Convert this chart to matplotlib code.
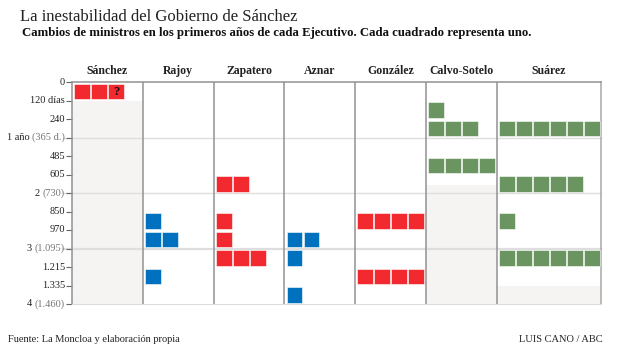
import matplotlib
matplotlib.use('Agg')
import matplotlib.pyplot as plt
from matplotlib.patches import Rectangle
import numpy as np

plt.rcParams['font.family'] = ['Liberation Serif', 'DejaVu Serif']

# datos
presidentes = ['Sánchez', 'Rajoy', 'Zapatero', 'Aznar', 'González', 'Calvo-Sotelo', 'Suárez']
partido_color = ['#f2292e', '#0071bf', '#f2292e', '#0071bf', '#f2292e', '#6a9460', '#6a9460']

# cambios de ministros: tramo (cada 120 días aprox.) -> número de cambios
tramo_sanchez = [0];            n_sanchez = [3]
tramo_rajoy = [7, 8, 10];       n_rajoy = [1, 2, 1]
tramo_zapatero = [5, 7, 8, 9];  n_zapatero = [2, 1, 1, 3]
tramo_aznar = [8, 9, 11];       n_aznar = [2, 1, 1]
tramo_gonzalez = [7, 10];       n_gonzalez = [4, 4]
tramo_calvo = [1, 2, 4];        n_calvo = [1, 3, 4]
tramo_suarez = [2, 5, 7, 9];    n_suarez = [6, 5, 1, 6]

# días en el Gobierno (fondo gris a partir de ahí); None = más de 4 años
dias_gobierno = [120, None, None, None, None, 678, 1338]

ticks_dias = [0, 120, 240, 365, 485, 605, 730, 850, 970, 1095, 1215, 1335, 1460]
ticks_txt = ['0', '120 días', '240', '1 año', '485', '605', '2', '850', '970', '3',
             '1.215', '1.335', '4']
ticks_paren = ['', '', '', '(365 d.)', '', '', '(730)', '', '', '(1.095)', '', '', '(1.460)']

tramos = [tramo_sanchez, tramo_rajoy, tramo_zapatero, tramo_aznar,
          tramo_gonzalez, tramo_calvo, tramo_suarez]
numeros = [n_sanchez, n_rajoy, n_zapatero, n_aznar, n_gonzalez, n_calvo, n_suarez]

# ancho de columnas en "cuadrados"
anchos = [4.165] * 6 + [6.12]
inicio = np.concatenate([[0], np.cumsum(anchos)[:-1]])
total = sum(anchos)
nfilas = len(ticks_dias) - 1

fig = plt.figure(figsize=(6.2, 3.49), dpi=100)
ax = fig.add_axes([72 / 620, 45 / 349, 529 / 620, 222 / 349])
ax.set_xlim(0, total)
ax.set_ylim(nfilas, 0)

# fondo gris tras el fin del Gobierno
for i, d in enumerate(dias_gobierno):
    if d is None:
        continue
    f = np.interp(d, ticks_dias, range(len(ticks_dias)))
    ax.add_patch(Rectangle((inicio[i], f), anchos[i], nfilas - f,
                           facecolor='#f5f4f2', edgecolor='none', zorder=0))

# lineas de años
for r, w in zip([3, 6, 9], [1.0, 1.0, 1.6]):
    ax.plot([-0.55, total], [r, r], color='#dedede', lw=w, clip_on=False, zorder=1)

# cuadrados
for i in range(len(presidentes)):
    for t, n in zip(tramos[i], numeros[i]):
        for j in range(n):
            ax.add_patch(Rectangle((inicio[i] + 0.12 + j, t + 0.1), 0.94, 0.83,
                                   facecolor=partido_color[i], edgecolor='#ffffff',
                                   lw=0.4, zorder=3))

# el "?" de Sánchez
ax.text(inicio[0] + 0.12 + 2 + 0.47, 0.52, '?', ha='center', va='center',
        fontsize=9, fontweight='bold', color='#111', zorder=4)

# separadores de columnas
for x in list(inicio[1:]):
    ax.axvline(x, color='#929292', lw=1.1, zorder=2)

for s in ['left', 'top']:
    ax.spines[s].set_color('#929292')
    ax.spines[s].set_linewidth(1.1)
ax.spines['right'].set_color('#a8a8a8')
ax.spines['right'].set_linewidth(1.1)
ax.spines['bottom'].set_color('#dddddd')
ax.spines['bottom'].set_linewidth(0.8)

ax.set_xticks([])
ax.set_yticks(range(len(ticks_dias)))
ax.set_yticklabels([])
ax.tick_params(axis='y', length=4, width=0.8, color='#666666')

# etiquetas del eje
for r, (a, b) in enumerate(zip(ticks_txt, ticks_paren)):
    if b:
        tp = ax.annotate(b, xy=(0, r), xytext=(-5, 0), textcoords='offset points',
                         ha='right', va='center', fontsize=7.5, color='#777777',
                         annotation_clip=False)
        ax.annotate(a + ' ', xy=(0, 0.5), xycoords=tp, ha='right', va='center',
                    fontsize=7.5, color='#222222', annotation_clip=False)
    else:
        ax.annotate(a, xy=(0, r), xytext=(-5, 0), textcoords='offset points',
                    ha='right', va='center', fontsize=7.5, color='#222222',
                    annotation_clip=False)

# cabeceras
for i, p in enumerate(presidentes):
    ax.text(inicio[i] + anchos[i] / 2, -0.6, p, ha='center', va='center',
            fontsize=8.5, fontweight='bold', color='#222222', clip_on=False)

fig.text(20 / 620, 1 - 17 / 349, 'La inestabilidad del Gobierno de Sánchez',
         fontsize=12, color='#222222', va='center', ha='left')
fig.text(22 / 620, 1 - 33 / 349,
         'Cambios de ministros en los primeros años de cada Ejecutivo. Cada cuadrado representa uno.',
         fontsize=9.2, fontweight='bold', color='#111111', va='center', ha='left')
fig.text(8 / 620, 1 - 339 / 349, 'Fuente: La Moncloa y elaboración propia',
         fontsize=7.5, color='#222222', va='center', ha='left')
fig.text(603 / 620, 1 - 339 / 349, 'LUIS CANO / ABC',
         fontsize=7.5, color='#222222', va='center', ha='right')

fig.savefig('out.png', dpi=100)
